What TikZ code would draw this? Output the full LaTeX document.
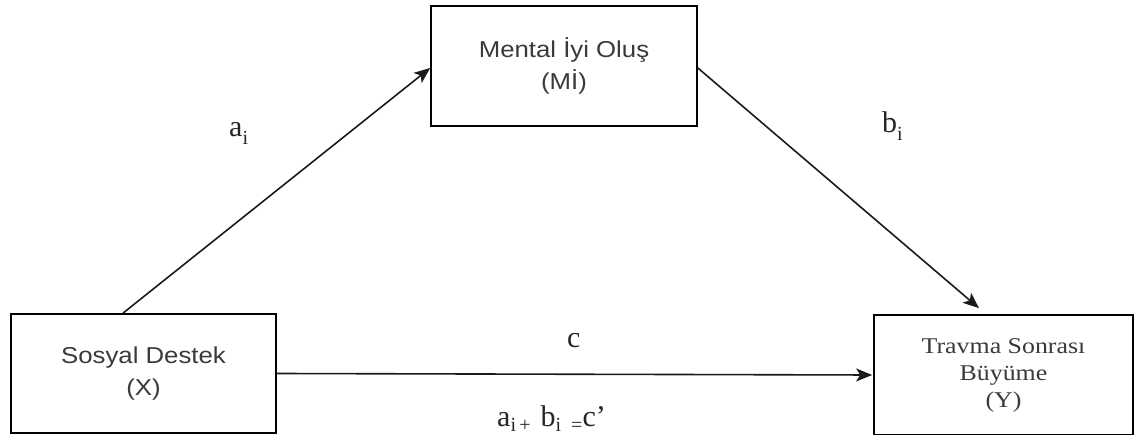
\documentclass[tikz,border=0pt]{standalone}
\usepackage{fontspec}
\setmainfont{Liberation Serif}
\newfontfamily\boxsans{Liberation Sans}
\usetikzlibrary{arrows.meta,calc}
\newcommand\wsans[1]{\scalebox{1.12}[1]{#1}}
\newcommand\wser[1]{\scalebox{1.15}[1]{#1}}
\newcommand\lowtxt[2][8pt]{\raisebox{-#1}{\fontsize{20}{20}\selectfont #2}}
\definecolor{boxtext}{HTML}{3A3A3A}
\definecolor{linecol}{HTML}{1A1A1A}
\definecolor{labtext}{HTML}{262626}
\tikzset{
  box/.style={draw=black, line width=1.7pt, minimum width=265pt, minimum height=119pt, inner sep=0pt, align=center, text=boxtext},
  sansbox/.style={box, font=\boxsans\fontsize{23}{32}\selectfont},
  serbox/.style={box, minimum width=259pt, minimum height=120pt, font=\fontsize{22.5}{27}\selectfont},
  arr/.style={draw=linecol, line width=1.6pt, -{Stealth[length=16pt,width=13pt,inset=4pt]}},
  lab/.style={inner sep=0pt, text=labtext, font=\fontsize{30}{30}\selectfont}
}
\begin{document}
\begin{tikzpicture}[x=1pt,y=-1pt]
\useasboundingbox (0,0) rectangle (1137,435);
\node[sansbox] (X) at (143.5,373.5) {\wsans{Sosyal Destek}\\\wsans{(X)}};
\node[sansbox, minimum width=266pt, minimum height=120pt] (M) at (564,66) {\wsans{Mental İyi Oluş}\\\wsans{(Mİ)}};
\node[serbox] (Y) at (1003.5,375) {\wser{Travma Sonrası}\\\wser{Büyüme}\\\wser{(Y)}};
\coordinate (Yin) at ([xshift=-24.5pt,yshift=6pt]Y.north);
\draw[arr] ($(X.north west)!0.423!(X.north east)$) -- ([yshift=-2pt]M.west);
\draw[arr] ([yshift=-2pt]M.east) -- (Yin);
\draw[arr, shorten >=1pt] (X.east) -- (Y.west);
\node[lab, anchor=base west] (la) at (229,137) {a\lowtxt{i}};
\node[lab, anchor=base west] (lb) at (882,133) {b\lowtxt{i}};
\node[lab, anchor=base west] (lc) at (567,348) {c};
\node[lab, anchor=base west] (ls) at (497,426) {a\lowtxt[5pt]{i\,+}\,\,b\lowtxt[5pt]{i\,\,\,=}c'};
\end{tikzpicture}
\end{document}
